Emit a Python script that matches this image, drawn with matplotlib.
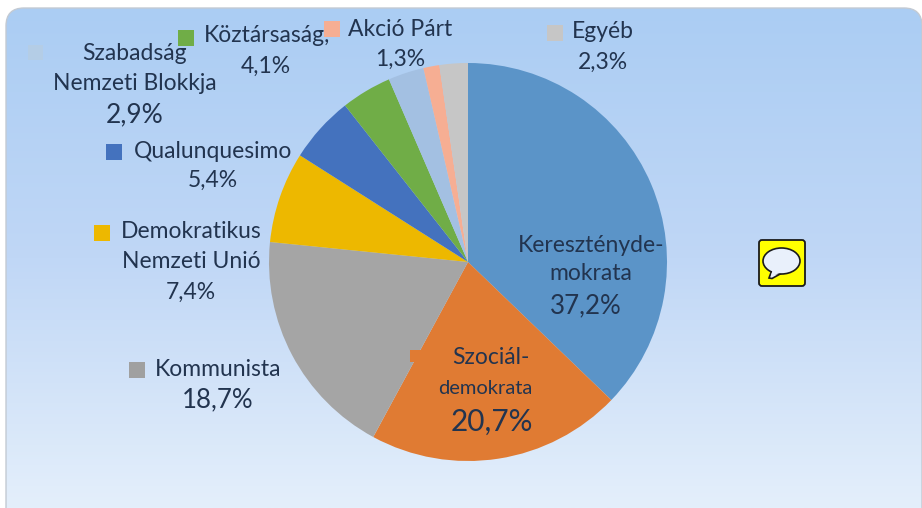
import numpy as np
import matplotlib
matplotlib.use("Agg")
import matplotlib.pyplot as plt
from matplotlib.patches import FancyBboxPatch, Ellipse, Polygon, Rectangle
from matplotlib.colors import LinearSegmentedColormap

# adatok
partok = ["Kereszténydemokrata", "Szociáldemokrata", "Kommunista", "Demokratikus Nemzeti Unió",
          "Qualunquesimo", "Köztársasági", "Szabadság Nemzeti Blokkja", "Akció Párt", "Egyéb"]
szazalek = [37.2, 20.7, 18.7, 7.4, 5.4, 4.1, 2.9, 1.3, 2.3]
szinek = ["#5B94C8", "#E07B33", "#A5A5A5", "#EDB800", "#4472BE",
          "#70AD47", "#A3C0E2", "#F6AE93", "#C6C6C6"]

plt.rcParams["font.family"] = ["Lato", "DejaVu Sans"]
SOTET = "#22344F"

fig = plt.figure(figsize=(9.22, 5.08), dpi=100)
ax = fig.add_axes([0, 0, 1, 1])


def fy(y):
    # kép koordináta -> tengely (felülről mérve)
    return 508 - y


def szaz(i):
    return f"{szazalek[i]:.1f}%".replace(".", ",")


# kördiagram
ax.pie(szazalek, colors=szinek, startangle=90, counterclock=False,
       center=(468, fy(262)), radius=199, frame=True,
       wedgeprops=dict(linewidth=0, zorder=3))
ax.set_xlim(0, 922)
ax.set_ylim(0, 508)
ax.set_aspect("auto")
ax.axis("off")

# háttér: lekerekített, kék színátmenet
cmap = LinearSegmentedColormap.from_list("hatter", ["#ABCDF3", "#C0D7F6", "#E4EFFB"])
grad = np.linspace(0, 1, 256).reshape(-1, 1)
kep = ax.imshow(grad, cmap=cmap, extent=(6, 922, 0, fy(8)), aspect="auto", zorder=0)
keret = FancyBboxPatch((24, -40), 880, fy(8) + 22,
                       boxstyle="round,pad=18,rounding_size=18",
                       facecolor="none", edgecolor="#C3CAD3", linewidth=1.0, zorder=1)
ax.add_patch(keret)
kep.set_clip_path(keret)
ax.set_xlim(0, 922)
ax.set_ylim(0, 508)


def felirat(x, y, szoveg, meret=16.5):
    ax.text(x, fy(y), szoveg, ha="center", va="center", fontsize=meret, color=SOTET, zorder=5)


def negyzet(x, y, szin, m=16):
    ax.add_patch(Rectangle((x, fy(y) - m), m, m, facecolor=szin, edgecolor="none", zorder=4))


# feliratok a körön belül
felirat(591, 246, "Keresztényde-")
felirat(591, 274, "mokrata")
felirat(586, 306, szaz(0), 18.7)
felirat(491, 358, "Szociál-")
felirat(485, 388, "demokrata", 14.5)
felirat(492, 422, szaz(1), 21.4)

# feliratok a körön kívül
felirat(218, 369, "Kommunista")
felirat(218, 400, szaz(2), 18.6)
felirat(191, 232, "Demokratikus")
felirat(191, 262, "Nemzeti Unió")
felirat(191, 292, szaz(3))
felirat(213, 151, "Qualunquesimo")
felirat(213, 180, szaz(4))
felirat(267, 35, "Köztársaság,")
felirat(266, 66, szaz(5))
felirat(135, 54, "Szabadság")
felirat(135, 83, "Nemzeti Blokkja")
felirat(135, 115, szaz(6), 19)
felirat(400, 29, "Akció Párt")
felirat(400, 59, szaz(7))
felirat(603, 32, "Egyéb")
felirat(603, 62, szaz(8))

# jelmagyarázat négyzetek
negyzet(129, 362, "#A0A0A0")
negyzet(94, 225, szinek[3])
negyzet(106, 144, szinek[4])
negyzet(178, 30, szinek[5])
negyzet(28, 45, "#B4CDE6", 15)
negyzet(324, 21, szinek[7])
negyzet(547, 25, szinek[8])
negyzet(410, 350, szinek[1], 12)

# sárga buborék ikon
ax.add_patch(FancyBboxPatch((760, fy(285)), 44, 44, boxstyle="round,pad=1,rounding_size=3",
                            facecolor="#FFFF00", edgecolor="#1A1A1A", linewidth=1.3, zorder=6))
ax.add_patch(Polygon([(772, fy(270)), (769, fy(278)), (772, fy(278.5)), (782, fy(273))],
                     closed=True, facecolor="#E9F0FB", edgecolor="#1A1A1A", linewidth=1.2, zorder=7))
ax.add_patch(Ellipse((781.5, fy(261)), 37, 26, facecolor="#E9F0FB", edgecolor="#1A1A1A",
                     linewidth=1.2, zorder=7))
ax.add_patch(Polygon([(773, fy(268)), (771, fy(276)), (783, fy(272))],
                     closed=True, facecolor="#E9F0FB", edgecolor="none", zorder=8))

fig.savefig("out.png", dpi=100, facecolor="white")
